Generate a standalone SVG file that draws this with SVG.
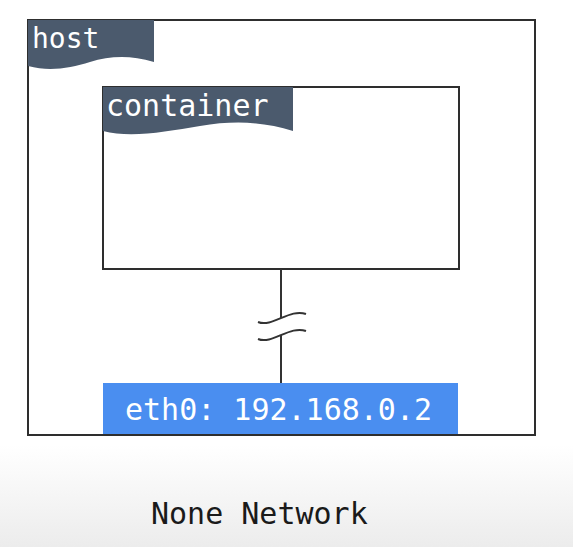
<svg xmlns="http://www.w3.org/2000/svg" width="573" height="547" viewBox="0 0 573 547">
<defs>
<linearGradient id="bg" x1="0" y1="0" x2="0" y2="1">
<stop offset="0" stop-color="#ffffff"/>
<stop offset="1" stop-color="#ececec"/>
</linearGradient>
<style>
.box{fill:#ffffff;stroke:#2e2e2e;stroke-width:2}
.tab{fill:#4b5a6d}
.mono{font-family:"DejaVu Sans Mono","Liberation Mono",monospace;font-size:30px}
.lbl{fill:#ffffff}
.wire{fill:none;stroke:#333333;stroke-width:2}
</style>
</defs>
<rect x="0" y="0" width="573" height="547" fill="#ffffff"/>
<rect x="0" y="445" width="573" height="102" fill="url(#bg)"/>
<g id="host">
<rect class="box" x="28" y="20" width="507" height="415"/>
<path class="tab" d="M28,20 H154 V62 C130,55 110,56 90,62 C70,68 50,72 28,66 Z"/>
<text class="mono lbl" x="32" y="48" style="font-size:28px">host</text>
</g>
<g id="container">
<rect class="box" x="103" y="87" width="356" height="182"/>
<path class="tab" d="M103,87 H293 V131 C265,122 235,120 200,126 C165,132 130,138 103,131 Z"/>
<text class="mono lbl" x="106" y="116">container</text>
</g>
<g id="connectors">
<line class="wire" x1="281" y1="269" x2="281" y2="318"/>
<line class="wire" x1="281" y1="335" x2="281" y2="383"/>
<path class="wire" d="M258,322 C272,328 290,308 306,314"/>
<path class="wire" d="M258,339 C272,345 290,325 306,331"/>
</g>
<g id="eth0">
<rect x="103" y="383" width="355" height="51" fill="#4a8ef0"/>
<text class="mono lbl" x="125" y="420">eth0: 192.168.0.2</text>
</g>
<g id="caption">
<text class="mono" x="151" y="524" fill="#1a1a1a">None Network</text>
</g>
</svg>
